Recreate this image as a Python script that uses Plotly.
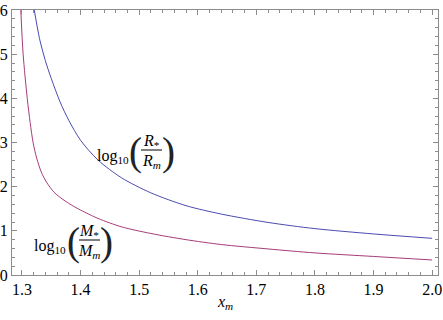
import plotly.graph_objects as go

# values
x_r = [1.321, 1.33, 1.34, 1.35, 1.365, 1.38, 1.40, 1.43, 1.47, 1.52, 1.58,
       1.64, 1.72, 1.80, 1.90, 2.0]
logR = [6.0, 5.35, 4.85, 4.45, 3.92, 3.5, 3.05, 2.6, 2.2, 1.86, 1.57,
        1.38, 1.19, 1.05, 0.93, 0.83]

x_m = [1.298, 1.302, 1.309, 1.314, 1.319, 1.325, 1.333, 1.342, 1.355, 1.37,
       1.385, 1.40, 1.43, 1.47, 1.52, 1.58, 1.64, 1.72, 1.80, 1.90, 2.0]
logM = [6.0, 5.0, 4.0, 3.45, 3.0, 2.65, 2.33, 2.1, 1.87, 1.71, 1.58, 1.47,
        1.28, 1.09, 0.94, 0.80, 0.69, 0.59, 0.5, 0.42, 0.34]

x_ticks = [1.3, 1.4, 1.5, 1.6, 1.7, 1.8, 1.9, 2.0]
x_ticklabels = ["1.3", "1.4", "1.5", "1.6", "1.7", "1.8", "1.9", "2.0"]
y_ticks = [0, 1, 2, 3, 4, 5, 6]

X_RANGE = [1.283, 2.010]
Y_RANGE = [0, 6]
W, H = 443, 320
M_L, M_R, M_T, M_B = 12, 5, 10, 45

BLUE = "#4b4bb0"
PURPLE = "#a53c7a"
FRAME = "#8c8c8c"
SERIF = "Liberation Serif, Times New Roman, serif"


def px2x(px):
    return X_RANGE[0] + (px - M_L) / (W - M_L - M_R) * (X_RANGE[1] - X_RANGE[0])


def py2y(py):
    return Y_RANGE[1] - (py - M_T) / (H - M_T - M_B) * (Y_RANGE[1] - Y_RANGE[0])


fig = go.Figure()
fig.add_trace(go.Scatter(x=x_r, y=logR, mode="lines",
                         line=dict(color=BLUE, width=1, shape="spline", smoothing=0.8)))
fig.add_trace(go.Scatter(x=x_m, y=logM, mode="lines",
                         line=dict(color=PURPLE, width=1, shape="spline", smoothing=0.8)))

axis_common = dict(
    showgrid=False, zeroline=False, showline=True, linecolor=FRAME, linewidth=1,
    mirror="allticks", ticks="inside", tickcolor=FRAME, ticklen=5, automargin=False,
    tickfont=dict(family=SERIF, size=16, color="black"),
)
fig.update_xaxes(range=X_RANGE, tickvals=x_ticks, ticktext=x_ticklabels,
                 minor=dict(dtick=0.02, tick0=1.3, ticks="inside", ticklen=3, tickcolor=FRAME),
                 **axis_common)
fig.update_yaxes(range=Y_RANGE, tickvals=y_ticks,
                 minor=dict(dtick=0.2, tick0=0, ticks="inside", ticklen=3, tickcolor=FRAME),
                 **axis_common)

FONT = dict(family=SERIF, size=16, color="black")
PAREN = dict(family=SERIF, size=39, color="#222222")


def frac_label(log_right, paren_l, frac_c, paren_r, bar_y, letter):
    """log10( letter_* / letter_m ) laid out from pixel positions."""
    fig.add_annotation(x=px2x(log_right), y=py2y(bar_y + 6), text="log<sub>10</sub>",
                       showarrow=False, xanchor="right", yanchor="middle", font=FONT)
    fig.add_annotation(x=px2x(paren_l), y=py2y(bar_y + 2), text="(",
                       showarrow=False, xanchor="center", yanchor="middle", font=PAREN)
    fig.add_annotation(x=px2x(frac_c), y=py2y(bar_y - 9), text=f"<i>{letter}</i><sub>*</sub>",
                       showarrow=False, xanchor="center", yanchor="middle", font=FONT)
    fig.add_annotation(x=px2x(frac_c), y=py2y(bar_y + 11),
                       text=f"<i>{letter}</i><sub><i>m</i></sub>",
                       showarrow=False, xanchor="center", yanchor="middle", font=FONT)
    fig.add_shape(type="line", xref="x", yref="y", x0=px2x(frac_c - 10), x1=px2x(frac_c + 11),
                  y0=py2y(bar_y), y1=py2y(bar_y), line=dict(color="black", width=1))
    fig.add_annotation(x=px2x(paren_r), y=py2y(bar_y + 2), text=")",
                       showarrow=False, xanchor="center", yanchor="middle", font=PAREN)


frac_label(131, 135, 151, 168, 150, "R")
frac_label(68, 73, 89, 106, 240, "M")

# x-axis title
fig.add_annotation(x=0.5, y=-27 / (H - M_T - M_B), xref="paper", yref="paper",
                   text="<i>x</i><sub><i>m</i></sub>", showarrow=False,
                   xanchor="center", yanchor="middle", font=FONT)

fig.update_layout(
    width=W, height=H,
    margin=dict(l=M_L, r=M_R, t=M_T, b=M_B),
    font=dict(family=SERIF),
    plot_bgcolor="white", paper_bgcolor="white",
    showlegend=False,
)
# drop the page's default body margin so the figure sits at the window corner
fig.write_html("out.html", config={"displayModeBar": False},
               post_script="document.body.style.margin='0';")
